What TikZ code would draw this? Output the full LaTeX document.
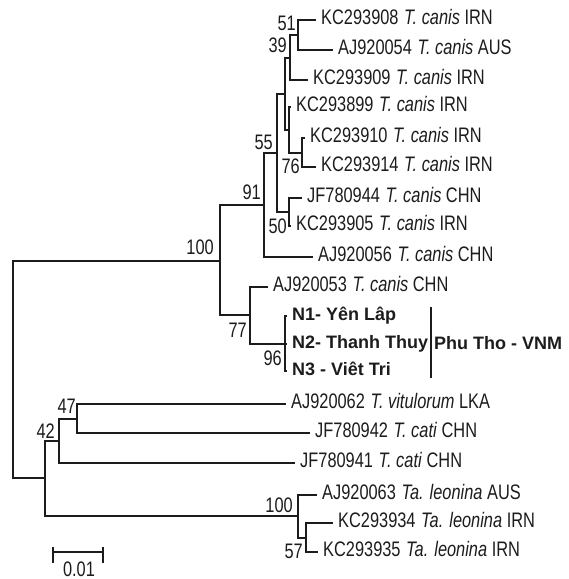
\documentclass[tikz,border=0pt]{standalone}
\usepackage{fontspec}
\setsansfont{Liberation Sans}
\newfontfamily\narrowsans{Liberation Sans}[FakeStretch=0.78]
\usepackage{tikz}
\usetikzlibrary{positioning}
\definecolor{TreeInk}{RGB}{28, 28, 28}

\begin{document}
\begin{tikzpicture}[
  x=1pt, y=-1pt,
  branch/.style={draw=TreeInk, line width=2pt},
  leaf/.style={anchor=west, inner xsep=5pt, inner ysep=0pt,
    text height=9pt, text depth=0pt, text=TreeInk,
    font=\narrowsans\fontsize{21}{21}\selectfont},
  isolate/.style={leaf, font=\sffamily\bfseries\fontsize{18}{18}\selectfont},
  bootup/.style={anchor=base east, inner sep=0pt, text=TreeInk,
    font=\narrowsans\fontsize{21}{21}\selectfont},
  bootdown/.style={bootup}
]
  \useasboundingbox (0,0) rectangle (569,579);

  % internal nodes
  \coordinate (root)  at (13, 369.5);
  \coordinate (n100a) at (220, 260.5);
  \coordinate (n91)   at (264, 205);
  \coordinate (n55)   at (277, 153);
  \coordinate (nA)    at (285, 94);
  \coordinate (n39)   at (290, 57.5);
  \coordinate (n51)   at (298, 35);
  \coordinate (nX)    at (289, 130);
  \coordinate (n76)   at (302, 152.5);
  \coordinate (n50)   at (289, 212);
  \coordinate (n77)   at (250, 315);
  \coordinate (n96)   at (285, 343.5);
  \coordinate (nB)    at (45, 478.4);
  \coordinate (n42)   at (59, 440.75);
  \coordinate (n47)   at (77, 418.5);
  \coordinate (n100b) at (298, 516);
  \coordinate (n57)   at (306, 537.5);

  % leaves
  \node[leaf] (kc908) at (316, 20)  {KC293908\hspace{1pt} \textit{T. canis} IRN};
  \node[leaf] (aj054) at (333, 50)  {AJ920054\hspace{1pt} \textit{T. canis} AUS};
  \node[leaf] (kc909) at (308, 80)  {KC293909\hspace{1pt} \textit{T. canis} IRN};
  \node[leaf] (kc899) at (291, 107) {KC293899\hspace{1pt} \textit{T. canis} IRN};
  \node[leaf] (kc910) at (305, 138) {KC293910\hspace{1pt} \textit{T. canis} IRN};
  \node[leaf] (kc914) at (316, 167) {KC293914\hspace{1pt} \textit{T. canis} IRN};
  \node[leaf] (jf944) at (302, 198) {JF780944\hspace{1pt} \textit{T. canis} CHN};
  \node[leaf] (kc905) at (291, 226) {KC293905\hspace{1pt} \textit{T. canis} IRN};
  \node[leaf] (aj056) at (313, 257) {AJ920056\hspace{1pt} \textit{T. canis} CHN};
  \node[leaf] (aj053) at (268, 287) {AJ920053\hspace{1pt} \textit{T. canis} CHN};
  \node[isolate] (iso1) at (287, 316) {N1- Yên Lâp};
  \node[isolate] (iso2) at (287, 344) {N2- Thanh Thuy};
  \node[isolate] (iso3) at (287, 371) {N3 - Viêt Tri};
  \node[leaf] (aj062) at (286, 404) {AJ920062\hspace{1pt} \textit{T. vitulorum} LKA};
  \node[leaf] (jf942) at (310, 433) {JF780942\hspace{1pt} \textit{T. cati} CHN};
  \node[leaf] (jf941) at (295, 463) {JF780941\hspace{1pt} \textit{T. cati} CHN};
  \node[leaf] (aj063) at (317, 495) {AJ920063\hspace{1pt} \textit{Ta. leonina} AUS};
  \node[leaf] (kc934) at (333, 523) {KC293934\hspace{1pt} \textit{Ta. leonina} IRN};
  \node[leaf] (kc935) at (318, 552) {KC293935\hspace{1pt} \textit{Ta. leonina} IRN};

  % branches
  \draw[branch] (root) |- (n100a);
  \draw[branch] (root) |- (nB);
  \draw[branch] (n100a) |- (n91);
  \draw[branch] (n100a) |- (n77);
  \draw[branch] (n91) |- (n55);
  \draw[branch] (n91) |- (aj056.west);
  \draw[branch] (n55) |- (nA);
  \draw[branch] (n55) |- (n50);
  \draw[branch] (nA) |- (n39);
  \draw[branch] (nA) |- (nX);
  \draw[branch] (n39) |- (n51);
  \draw[branch] (n39) |- (kc909.west);
  \draw[branch] (n51) |- (kc908.west);
  \draw[branch] (n51) |- (aj054.west);
  \draw[branch] (nX) |- (kc899.west);
  \draw[branch] (nX) |- (n76);
  \draw[branch] (n76) |- (kc910.west);
  \draw[branch] (n76) |- (kc914.west);
  \draw[branch] (n50) |- (jf944.west);
  \draw[branch] (n50) |- (kc905.west);
  \draw[branch] (n77) |- (aj053.west);
  \draw[branch] (n77) |- (n96);
  \draw[branch] (n96) |- (iso1.west);
  \draw[branch] (n96) |- (iso2.west);
  \draw[branch] (n96) |- (iso3.west);
  \draw[branch] (nB) |- (n42);
  \draw[branch] (nB) |- (n100b);
  \draw[branch] (n42) |- (n47);
  \draw[branch] (n42) |- (jf941.west);
  \draw[branch] (n47) |- (aj062.west);
  \draw[branch] (n47) |- (jf942.west);
  \draw[branch] (n100b) |- (aj063.west);
  \draw[branch] (n100b) |- (n57);
  \draw[branch] (n57) |- (kc934.west);
  \draw[branch] (n57) |- (kc935.west);

  % bootstrap values
  \node[bootup] (b51)   at ([xshift=-2pt,yshift=5pt]n51)   {51};
  \node[bootup] (b39)   at ([xshift=-3pt,yshift=5pt]n39)   {39};
  \node[bootup] (b55)   at ([xshift=-4pt,yshift=4pt]n55)   {55};
  \node[bootup] (b91)   at ([xshift=-3pt,yshift=6pt]n91)   {91};
  \node[bootup] (b100a) at ([xshift=-6pt,yshift=6pt]n100a) {100};
  \node[bootup] (b47)   at ([xshift=-1pt,yshift=5pt]n47)   {47};
  \node[bootup] (b42)   at ([xshift=-4pt,yshift=2pt]n42)   {42};
  \node[bootup] (b100b) at ([xshift=-5pt,yshift=4pt]n100b) {100};
  \node[bootdown] (b76) at ([xshift=-2pt,yshift=-21pt]n76) {76};
  \node[bootdown] (b50) at ([xshift=-2pt,yshift=-21pt]n50) {50};
  \node[bootdown] (b77) at ([xshift=-3pt,yshift=-22pt]n77) {77};
  \node[bootdown] (b96) at ([xshift=-3pt,yshift=-22pt]n96) {96};
  \node[bootdown] (b57) at ([xshift=-3pt,yshift=-21pt]n57) {57};

  % Phu Tho group bar
  \coordinate (bartop) at (431, 307);
  \coordinate (barbot) at (431, 378);
  \draw[branch, line width=1.6pt] (bartop) -- (barbot);
  \node[isolate, inner xsep=3pt] (region) at (431, 345) {Phu Tho - VNM};

  % scale bar
  \coordinate (sbl) at (53, 552);
  \coordinate (sbr) at (103, 552);
  \draw[branch] (sbl) -- (sbr);
  \draw[branch, line width=1.6pt] ([yshift=5pt]sbl) -- ([yshift=-11pt]sbl);
  \draw[branch, line width=1.6pt] ([yshift=5pt]sbr) -- ([yshift=-11pt]sbr);
  \node[bootup, anchor=base] (sblabel) at (79, 576) {0.01};
\end{tikzpicture}
\end{document}
